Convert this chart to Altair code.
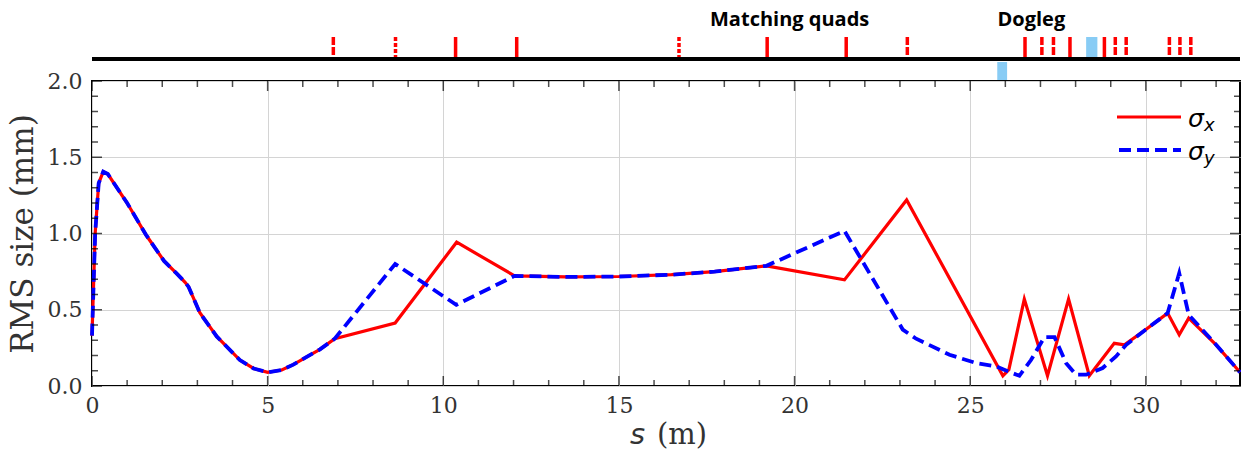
import altair as alt
import pandas as pd

# ---------------- data ----------------
S_MAX = 32.68

s_sigx = [0.0, 0.09, 0.19, 0.32, 0.45, 1.0, 1.54, 2.05, 2.4, 2.65, 2.75, 3.07, 3.55, 4.21, 4.6, 5.0, 5.4, 5.73,
          6.1, 6.49, 6.91, 8.63, 10.38, 12.03, 13.5, 15.0, 16.5, 17.72, 19.2, 21.42, 23.19, 25.93, 26.1,
          26.54, 27.2, 27.8, 28.39, 29.1, 29.39, 30.0, 30.62, 30.95, 31.22, 32.0, 32.68]
sigx = [0.33, 1.0, 1.33, 1.405, 1.39, 1.2, 0.99, 0.82, 0.74, 0.68, 0.65, 0.48, 0.325, 0.17, 0.115, 0.09, 0.105, 0.14,
        0.19, 0.24, 0.31, 0.413, 0.943, 0.722, 0.715, 0.718, 0.73, 0.75, 0.788, 0.696, 1.22, 0.067, 0.107,
        0.57, 0.067, 0.57, 0.067, 0.28, 0.27, 0.37, 0.478, 0.336, 0.445, 0.27, 0.09]

s_sigy = [0.0, 0.09, 0.19, 0.32, 0.45, 1.0, 1.54, 2.05, 2.4, 2.65, 2.75, 3.07, 3.55, 4.21, 4.6, 5.0, 5.4, 5.73,
          6.1, 6.49, 6.91, 8.63, 10.37, 12.03, 13.5, 15.0, 16.5, 17.72, 19.2, 21.42, 23.08, 23.46, 24.41,
          25.17, 25.74, 26.07, 26.4, 26.73, 27.11, 27.4, 27.73, 28.01, 28.3, 28.77, 29.15, 29.44, 30.0,
          30.62, 30.95, 31.22, 32.0, 32.68]
sigy = [0.33, 1.0, 1.33, 1.405, 1.39, 1.2, 0.99, 0.82, 0.74, 0.68, 0.65, 0.48, 0.325, 0.17, 0.115, 0.09, 0.105, 0.14,
        0.19, 0.24, 0.31, 0.80, 0.532, 0.722, 0.715, 0.718, 0.73, 0.75, 0.788, 1.017, 0.37, 0.31, 0.205,
        0.15, 0.128, 0.096, 0.067, 0.17, 0.32, 0.32, 0.15, 0.074, 0.074, 0.118, 0.194, 0.27, 0.37,
        0.478, 0.74, 0.467, 0.27, 0.09]

quad_s = [6.87, 8.64, 10.35, 12.09, 16.71, 19.22, 21.47, 23.21, 26.56, 27.04, 27.37, 27.84,
          28.82, 29.13, 29.44, 30.67, 30.97, 31.28]
quad_kind = ["dashed", "dotted", "solid", "solid", "dotted", "solid", "solid", "dashed", "solid", "dashed",
             "dashed", "solid", "solid", "dashed", "dashed", "dashed", "dashed", "dashed"]

bend_below = {"a": [25.77], "b": [26.05]}
bend_above = {"a": [28.30], "b": [28.62]}

section_s = [19.86, 26.74]
section_label = ["Matching quads", "Dogleg"]

x_major = [0, 5, 10, 15, 20, 25, 30]
x_minor = [1, 2, 3, 4, 6, 7, 8, 9, 11, 12, 13, 14, 16, 17, 18, 19, 21, 22, 23, 24, 26, 27, 28, 29, 31, 32]
y_major = [0.0, 0.5, 1.0, 1.5, 2.0]
y_minor = [0.1, 0.2, 0.3, 0.4, 0.6, 0.7, 0.8, 0.9, 1.1, 1.2, 1.3, 1.4, 1.6, 1.7, 1.8, 1.9]

# ---------------- layout ----------------
W, H = 1148, 305
xscale = alt.Scale(domain=[0, S_MAX], nice=False, zero=False)
yscale = alt.Scale(domain=[0, 2], nice=False)
SERIF = "DejaVu Serif"
TXT = "#333333"

XAXIS = alt.Axis(values=x_major, grid=True, gridColor="#d4d4d4", gridWidth=1,
                 ticks=False, tickSize=0, domain=False, labelFont=SERIF, labelFontSize=22,
                 labelColor=TXT, labelPadding=9, labelFlush=False, title=None)
YAXIS = alt.Axis(values=y_major, format=".1f", grid=True, gridColor="#d4d4d4", gridWidth=1,
                 ticks=False, tickSize=0, domain=False, labelFont=SERIF, labelFontSize=22,
                 labelColor=TXT, labelPadding=10, labelFlush=False,
                 title="RMS size (mm)", titleFont=SERIF, titleFontSize=31,
                 titleFontWeight="normal", titleColor=TXT, titlePadding=8)


def X(field):
    return alt.X(field, scale=xscale, axis=XAXIS)


def Y(field):
    return alt.Y(field, scale=yscale, axis=YAXIS)


df_x = pd.DataFrame({"s": s_sigx, "v": sigx})
df_y = pd.DataFrame({"s": s_sigy, "v": sigy})

red = alt.Chart(df_x).mark_line(color="#ff0000", strokeWidth=3.2).encode(
    x=X("s:Q"), y=Y("v:Q"))

blue = alt.Chart(df_y).mark_line(color="#0000ff", strokeWidth=3.8, strokeDash=[12, 6]).encode(
    x=X("s:Q"), y=Y("v:Q"))


def xticks(vals, length, top):
    return alt.Chart(pd.DataFrame({"s": vals})).mark_tick(
        orient="vertical", size=length, thickness=1.5, color="black").encode(
        x=X("s:Q"),
        y=alt.value(length / 2 if top else H - length / 2))


def yticks(vals, length, right):
    return alt.Chart(pd.DataFrame({"v": vals})).mark_tick(
        orient="horizontal", size=length, thickness=1.5, color="black").encode(
        y=Y("v:Q"),
        x=alt.value(W - length / 2 if right else length / 2))


ticks = [xticks(x_minor, 6, False), xticks(x_major, 10, False),
         xticks(x_minor, 6, True), xticks(x_major, 10, True),
         yticks(y_minor, 6, False), yticks(y_major, 10, False),
         yticks(y_minor, 6, True), yticks(y_major, 10, True)]

# lattice strip above the plot
beamline = alt.Chart(pd.DataFrame({"s": [0.0], "b": [S_MAX]})).mark_rule(
    color="black", strokeWidth=4).encode(x=X("s:Q"), x2="b:Q", y=alt.value(-22))

quads = alt.Chart(pd.DataFrame({"s": quad_s, "kind": quad_kind})).mark_rule(
    color="#ff0000", strokeWidth=3.5).encode(
    x=X("s:Q"),
    y=alt.value(-44), y2=alt.value(-24),
    strokeDash=alt.StrokeDash("kind:N", legend=None,
                              scale=alt.Scale(domain=["solid", "dashed", "dotted"],
                                              range=[[1, 0], [8, 2], [4, 2]])))

bend1 = alt.Chart(pd.DataFrame({"s": bend_below["a"], "b": bend_below["b"]})).mark_rect(color="#88ccf5").encode(
    x=X("s:Q"), x2="b:Q", y=alt.value(-19), y2=alt.value(-1))
bend2 = alt.Chart(pd.DataFrame({"s": bend_above["a"], "b": bend_above["b"]})).mark_rect(color="#88ccf5").encode(
    x=X("s:Q"), x2="b:Q", y=alt.value(-44), y2=alt.value(-24))

sections = alt.Chart(pd.DataFrame({"s": section_s, "label": section_label})).mark_text(
    font="Open Sans", fontSize=20, fontWeight="bold", color="black",
    align="center", baseline="alphabetic").encode(
    x=X("s:Q"), y=alt.value(-55), text="label:N")

# x-axis title:  s (m)
xt_s = alt.Chart().mark_text(text="s", font="DejaVu Sans", fontStyle="italic", fontSize=29,
                             color=TXT, align="left", baseline="alphabetic").encode(
    x=alt.value(538), y=alt.value(363))
xt_m = alt.Chart().mark_text(text="(m)", font=SERIF, fontSize=29, color=TXT,
                             align="left", baseline="alphabetic").encode(
    x=alt.value(565), y=alt.value(363))

# legend (drawn by hand to get subscripts)
leg_red = alt.Chart().mark_rule(color="#ff0000", strokeWidth=3.2).encode(
    x=alt.value(1025), x2=alt.value(1089), y=alt.value(36))
leg_blue = alt.Chart().mark_rule(color="#0000ff", strokeWidth=3.8, strokeDash=[12, 6]).encode(
    x=alt.value(1027), x2=alt.value(1089), y=alt.value(69))
leg_t = []
for sub, base in [("x", 46), ("y", 79)]:
    leg_t.append(alt.Chart().mark_text(text="σ", font="DejaVu Sans", fontStyle="italic", fontSize=25,
                                       color="black", align="left", baseline="alphabetic").encode(
        x=alt.value(1096), y=alt.value(base)))
    leg_t.append(alt.Chart().mark_text(text=sub, font="DejaVu Sans", fontStyle="italic", fontSize=18,
                                       color="black", align="left", baseline="alphabetic").encode(
        x=alt.value(1112), y=alt.value(base + 4)))

chart = alt.layer(
    red, blue, *ticks, beamline, quads, bend1, bend2, sections, xt_s, xt_m, leg_red, leg_blue, *leg_t
).properties(
    width=W, height=H,
    autosize=alt.AutoSizeParams(type="none"),
    padding={"left": 92, "top": 81, "right": 1, "bottom": 66},
).configure_view(stroke="black", strokeWidth=2)

chart.save("out.html", embed_options={"renderer": "svg", "actions": False})
